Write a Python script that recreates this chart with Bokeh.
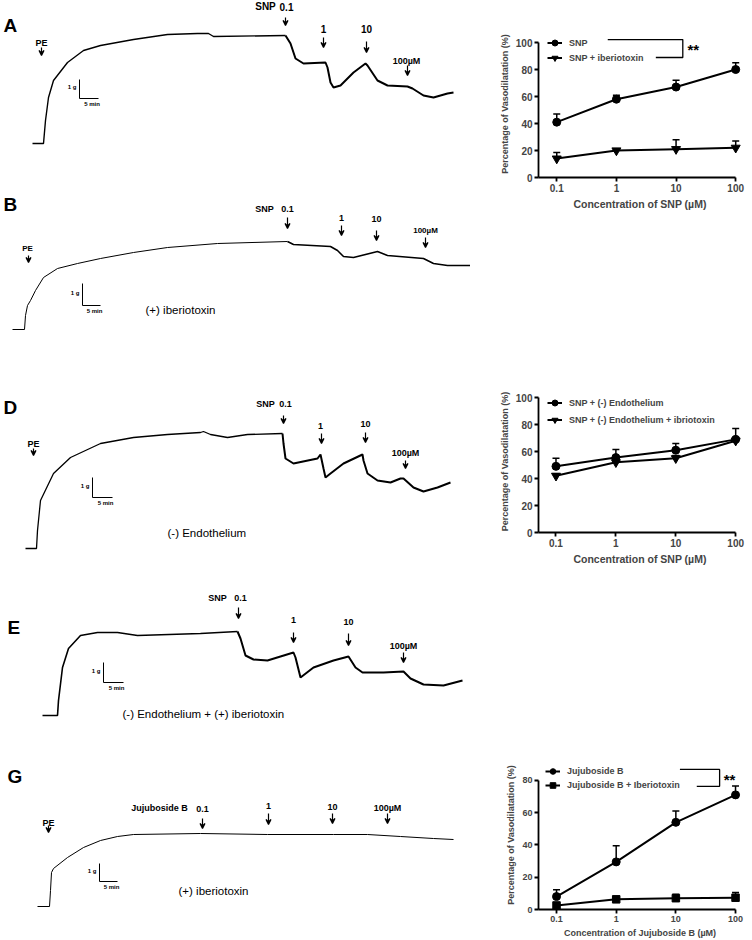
from bokeh.plotting import figure
from bokeh.layouts import row, column
from bokeh.models import (Range1d, FixedTicker, CustomJSTickFormatter, Legend, LegendItem,
                          Whisker, TeeHead, Arrow, VeeHead, ColumnDataSource, Spacer, Label)
from bokeh.core.properties import value
from bokeh.embed import file_html
from bokeh.resources import INLINE

FONT = "Liberation Sans"

# ---------------- dose-response data (C, F, H) ----------------
conc = [0.1, 1, 10, 100]

c_snp = [41, 58, 67, 80]
c_snp_err = [6, 3, 5, 5]
c_snp_ibtx = [14, 20, 21, 22]
c_snp_ibtx_err = [4.5, 1, 7, 5]

f_noendo = [49, 55.5, 61, 69]
f_noendo_err = [6, 6, 5, 8]
f_noendo_ibtx = [42, 52, 55, 68]
f_noendo_ibtx_err = [1.5, 1, 2, 1]

h_juj = [8, 29.5, 54, 71]
h_juj_err = [4.3, 10, 7, 5.5]
h_juj_ibtx = [2.5, 6.3, 7, 7.3]
h_juj_ibtx_err = [0.5, 1, 2.5, 3.2]

# ---------------- tension traces (time a.u., tension a.u.) ----------------
a_time = [32, 43, 45, 48, 53, 67, 83, 100, 133, 167, 197, 208, 213, 285, 290, 295, 303, 325, 327, 330,
          333, 340, 353, 365, 367, 377, 387, 407, 412, 423, 433, 447, 453]
a_tension = [0, 0, 23, 46, 63, 81, 93, 98, 104, 109, 110, 110, 107, 108, 100, 85, 80, 81, 76, 61,
             56, 58, 71, 80, 78, 63, 58, 57, 55, 48, 46, 50, 51]

b_time = [12, 24, 25, 27, 30, 35, 43, 57, 77, 100, 133, 167, 217, 287, 293, 330, 337, 343, 353, 377,
          387, 423, 433, 447, 470]
b_tension = [0, 0, 14, 24, 29, 39, 52, 61, 66, 71, 77, 82, 86, 88, 85, 83, 79, 73, 72, 78,
             74, 71, 66, 64, 64]

d_time = [25, 36, 37, 39, 40, 53, 70, 100, 133, 167, 200, 203, 210, 227, 247, 282, 283, 285, 293, 317,
          320, 323, 325, 330, 343, 362, 363, 367, 377, 390, 400, 403, 413, 423, 437, 450]
d_tension = [0, 0, 18, 38, 48, 75, 91, 105, 111, 114, 116, 117, 114, 111, 114, 115, 105, 90, 85, 90,
             94, 80, 71, 75, 85, 94, 88, 75, 68, 66, 70, 70, 61, 57, 61, 66]

e_time = [42, 57, 58, 62, 68, 80, 97, 117, 137, 200, 237, 240, 245, 253, 267, 293, 295, 300, 313, 333,
          348, 355, 362, 383, 403, 410, 423, 443, 462]
e_tension = [0, 0, 15, 48, 67, 80, 83, 83, 80, 82, 84, 77, 60, 56, 55, 63, 58, 38, 48, 55,
             59, 48, 43, 43, 44, 37, 31, 30, 35]

g_time = [37, 49, 50, 51, 53, 67, 83, 100, 117, 133, 200, 267, 333, 367, 400, 433, 453]
g_tension = [0, 0, 16, 34, 38, 49, 59, 66, 70, 72, 73, 72, 72, 72, 70, 68, 67]


def trace_panel(height, f_lo, f_hi, t, f, split, thin, thick, texts, arrows, scale):
    p = figure(width=470, height=height, x_range=Range1d(0, 470), y_range=Range1d(f_lo, f_hi),
               output_backend="svg", toolbar_location=None,
               x_axis_location=None, y_axis_location=None, min_border=0)
    p.outline_line_color = None
    p.grid.grid_line_color = None
    p.line(t[:split + 1], f[:split + 1], line_color="black", line_width=thin)
    p.line(t[split:], f[split:], line_color="black", line_width=thick)
    for (txt, x, y, size, style, align) in texts:
        p.text(x=[x], y=[y], text=[txt], text_font=value(FONT), text_font_size=size,
               text_font_style=style, text_align=align, text_baseline="middle", text_color="black")
    for (x, y0, y1) in arrows:
        p.add_layout(Arrow(end=VeeHead(size=5, line_width=1.2, fill_color="black"),
                           x_start=x, y_start=y0, x_end=x, y_end=y1, line_width=1.2))
    sx, stop, sbot, slen = scale
    p.line([sx, sx, sx + slen], [stop, sbot, sbot], line_color="black", line_width=1)
    p.text(x=[sx - 3], y=[(stop + sbot) / 2 + 2], text=["1 g"], text_font=value(FONT),
           text_font_size="6px", text_font_style="bold", text_align="right", text_baseline="middle")
    p.text(x=[sx + slen / 2 + 3], y=[sbot - 5], text=["5 min"], text_font=value(FONT),
           text_font_size="6px", text_font_style="bold", text_align="center", text_baseline="middle")
    return p


B9 = "9px"
pA = trace_panel(175, -32, 143, a_time, a_tension, 13, 1.4, 2.0,
                 [("A", 3, 118, "19px", "bold", "left"), ("PE", 41, 101, B9, "bold", "center"),
                  ("SNP", 265, 137, "10px", "bold", "center"), ("0.1", 286, 137, "10px", "bold", "center"),
                  ("1", 323, 115, "10px", "bold", "center"), ("10", 366, 115, "10px", "bold", "center"),
                  ("100µM", 406, 83, B9, "bold", "center")],
                 [(41, 96, 88), (285, 126, 118), (323, 106, 96), (366, 102, 91), (407, 78, 68)],
                 (79, 64, 45, 19))

pB = trace_panel(165, -11, 154, b_time, b_tension, 13, 1.0, 1.6,
                 [("B", 3, 125, "19px", "bold", "left"), ("PE", 27, 81, "8px", "bold", "center"),
                  ("SNP", 264, 121, B9, "bold", "center"), ("0.1", 287, 121, B9, "bold", "center"),
                  ("1", 341, 112, B9, "bold", "center"), ("10", 376, 111, B9, "bold", "center"),
                  ("100µM", 425, 99, "8px", "bold", "center"),
                  ("(+) iberiotoxin", 145, 20, "11.5px", "normal", "left")],
                 [(28, 74, 67), (287, 112, 101), (341, 104, 94), (376, 99, 89), (425, 92, 82)],
                 (82, 46, 24, 18))

pD = trace_panel(235, -27, 208, d_time, d_tension, 15, 1.3, 2.0,
                 [("D", 3, 141, "19px", "bold", "left"), ("PE", 33, 105, B9, "bold", "center"),
                  ("SNP", 265, 145, B9, "bold", "center"), ("0.1", 285, 145, B9, "bold", "center"),
                  ("1", 320, 123, B9, "bold", "center"), ("10", 365, 125, B9, "bold", "center"),
                  ("100µM", 405, 96, B9, "bold", "center"),
                  ("(-) Endothelium", 167, 16, "11.5px", "normal", "left")],
                 [(33, 100, 93), (283, 133, 125), (321, 115, 105), (365, 116, 106), (405, 88, 80)],
                 (92, 71, 51, 20))

pE = trace_panel(165, -25, 140, e_time, e_tension, 10, 1.6, 2.0,
                 [("E", 7, 88, "19px", "bold", "left"),
                  ("SNP", 217, 118, B9, "bold", "center"), ("0.1", 240, 118, B9, "bold", "center"),
                  ("1", 293, 96, B9, "bold", "center"), ("10", 348, 94, B9, "bold", "center"),
                  ("100µM", 403, 70, B9, "bold", "center"),
                  ("(-) Endothelium + (+) iberiotoxin", 122, 2, "11.5px", "normal", "left")],
                 [(238, 108, 97), (293, 83, 73), (348, 82, 70), (403, 63, 53)],
                 (103, 53, 33, 20))

pG = trace_panel(200, -34, 166, g_time, g_tension, 10, 1.0, 1.0,
                 [("G", 7, 130, "19px", "bold", "left"), ("PE", 48, 84, B9, "bold", "center"),
                  ("Jujuboside B", 159, 99, B9, "bold", "center"), ("0.1", 202, 98, B9, "bold", "center"),
                  ("1", 268, 101, B9, "bold", "center"), ("10", 332, 100, B9, "bold", "center"),
                  ("100µM", 387, 99, B9, "bold", "center"),
                  ("(+) iberiotoxin", 178, 16, "11.5px", "normal", "left")],
                 [(48, 81, 74), (202, 88, 78), (268, 93, 82), (332, 93, 83), (387, 93, 83)],
                 (99, 43, 25, 18))


def dose_chart(height, top, bottom, right, x_lo, x_hi, y_end, y_max, yticks, tick_fs, title_fs, xlabel, ylabel_fs):
    p = figure(width=282, height=height, x_axis_type="log",
               x_range=Range1d(x_lo, x_hi), y_range=Range1d(0, y_end),
               output_backend="svg", toolbar_location=None,
               min_border_left=68, min_border_right=right, min_border_top=top, min_border_bottom=bottom)
    p.outline_line_color = None
    p.grid.grid_line_color = None
    xa, ya = p.xaxis[0], p.yaxis[0]
    xa.ticker = FixedTicker(ticks=conc)
    xa.formatter = CustomJSTickFormatter(code="return tick < 1 ? tick.toFixed(1) : tick.toFixed(0);")
    xa.bounds = (x_lo, 100)
    ya.ticker = FixedTicker(ticks=yticks)
    ya.bounds = (0, y_max)
    for ax in (xa, ya):
        ax.axis_line_width = 1.8
        ax.major_tick_line_width = 1.8
        ax.major_tick_in = 0
        ax.major_tick_out = 4
        ax.minor_tick_line_color = None
        ax.major_label_text_font = FONT
        ax.major_label_text_font_style = "bold"
        ax.major_label_text_font_size = tick_fs
        ax.axis_label_text_font = FONT
        ax.axis_label_text_font_style = "bold"
        ax.major_label_standoff = 2
        ax.axis_label_standoff = 3
    xa.axis_label = xlabel
    xa.axis_label_text_font_size = title_fs
    ya.axis_label = "Percentage of Vasodilatation (%)"
    ya.axis_label_text_font_size = ylabel_fs
    return p


def add_series(p, y, err, marker, size):
    src = ColumnDataSource(dict(x=conc, y=y, up=[a + b for a, b in zip(y, err)]))
    p.add_layout(Whisker(source=src, base="x", upper="up", lower="y", dimension="height",
                         line_width=1.5, upper_head=TeeHead(size=7, line_width=1.5), lower_head=None))
    ln = p.line("x", "y", source=src, line_width=2, line_color="black")
    sc = p.scatter("x", "y", source=src, marker=marker, size=size, fill_color="black", line_color="black")
    return [ln, sc]


def add_legend(p, labels, rens, loc, row_h):
    leg = Legend(items=[LegendItem(label=l, renderers=r) for l, r in zip(labels, rens)],
                 location=loc, glyph_width=15, glyph_height=row_h, label_height=row_h,
                 label_standoff=7, spacing=0, padding=0, margin=0, border_line_color=None,
                 background_fill_alpha=0, label_text_font=FONT, label_text_font_size="9px",
                 label_text_font_style="bold")
    p.add_layout(leg)


def panel_letter(p, txt, x, y):
    p.add_layout(Label(x=x, y=y, x_units="screen", y_units="screen", text=txt, text_font=FONT,
                       text_font_size="19px", text_font_style="bold", text_baseline="middle"))


# C
pC = dose_chart(215, 30, 38, 3, 10 ** -1.306, 10 ** 2.097, 108.9, 100, [0, 20, 40, 60, 80, 100],
                "10px", "10.5px", "Concentration of SNP (µM)", "9px")
r1 = add_series(pC, c_snp, c_snp_err, "circle", 8)
r2 = add_series(pC, c_snp_ibtx, c_snp_ibtx_err, "inverted_triangle", 9)
add_legend(pC, ["SNP", "SNP + iberiotoxin"], [r1, r2], (9, 112), 15)
pC.line([0.716, 12.97, 12.97, 4.58], [102.2, 102.2, 88.9, 88.9], line_color="black", line_width=1.3)
pC.text(x=[19.5], y=[95], text=["**"], text_font=value(FONT), text_font_size="15px",
        text_font_style="bold", text_align="center", text_baseline="middle")
panel_letter(pC, "C", -65, 146)

# F
pF = dose_chart(200, 20, 38, 5, 10 ** -1.292, 10 ** 2.097, 105.2, 100, [0, 20, 40, 60, 80, 100],
                "10px", "10.5px", "Concentration of SNP (µM)", "9px")
r1 = add_series(pF, f_noendo, f_noendo_err, "circle", 8)
r2 = add_series(pF, f_noendo_ibtx, f_noendo_ibtx_err, "inverted_triangle", 9)
add_legend(pF, ["SNP + (-) Endothelium", "SNP + (-) Endothelium + ibriotoxin"], [r1, r2], (9, 104), 17)
panel_letter(pF, "F", -63, 148)

# H
pH = dose_chart(185, 5, 30, 11, 10 ** -1.302, 10 ** 2.1, 92.3, 80, [0, 20, 40, 60, 80],
                "9px", "9px", "Concentration of Jujuboside B (µM)", "9px")
r1 = add_series(pH, h_juj, h_juj_err, "circle", 8)
r2 = add_series(pH, h_juj_ibtx, h_juj_ibtx_err, "square", 7.5)
add_legend(pH, ["Jujuboside B", "Jujuboside B + Iberiotoxin"], [r1, r2], (7, 117), 14)
pH.line([11.7, 54.1, 54.1, 22.4], [86.8, 86.8, 76.3, 76.3], line_color="black", line_width=1.3)
pH.text(x=[79.4], y=[80.5], text=["**"], text_font=value(FONT), text_font_size="15px",
        text_font_style="bold", text_align="center", text_baseline="middle")
panel_letter(pH, "H", -65, 137)

left = column(pA, pB, pD, pE, pG, spacing=0)
right = column(pC, Spacer(width=282, height=155), pF, Spacer(width=282, height=185), pH, spacing=0)
layout = row(left, right, spacing=0)

open("out.html", "w").write(file_html(layout, INLINE))
